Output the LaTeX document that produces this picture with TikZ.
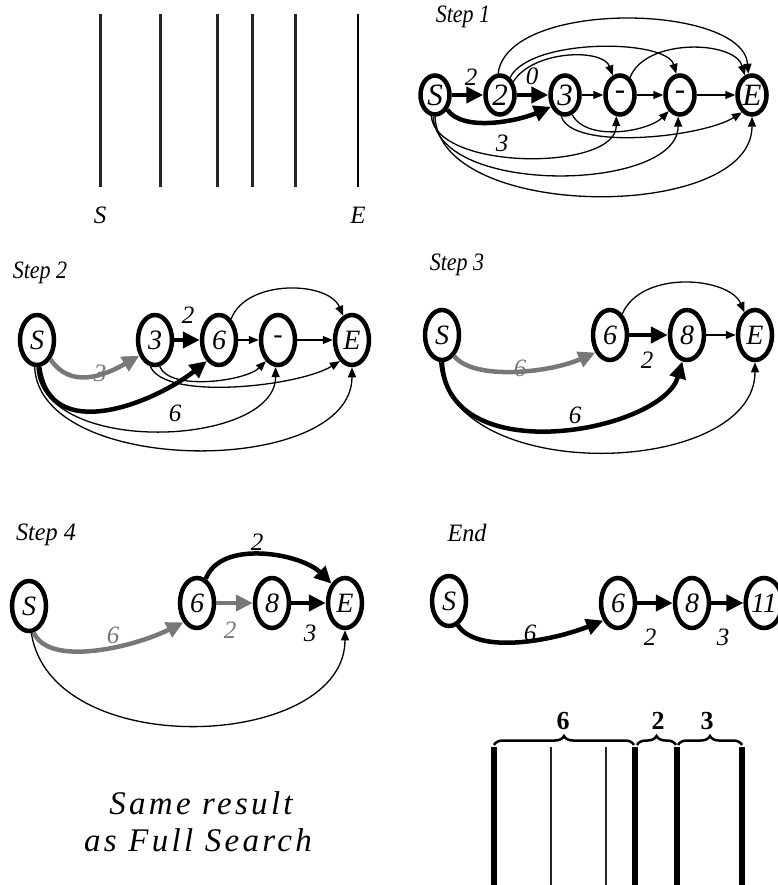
\documentclass[tikz,border=0pt]{standalone}
\usepackage{fontspec}
\setmainfont{Liberation Serif}
\usetikzlibrary{shapes.geometric,arrows.meta,decorations.pathreplacing}
\definecolor{gry}{RGB}{120,120,120}
\tikzset{
  el/.style={ellipse, draw, line width=4.5pt, inner sep=0pt, minimum width=34pt, minimum height=50pt, font=\itshape\fontsize{28}{28}\selectfont},
  elone/.style={el, line width=4.5pt, minimum width=29pt, minimum height=39pt, font=\itshape\fontsize{31}{31}\selectfont},
  thk/.style={line width=4.5pt, -{Triangle[length=17pt,width=16pt]}},
  thn/.style={line width=1.3pt, -{Triangle[length=10pt,width=8pt]}},
  grythk/.style={thk, draw=gry},
  lab/.style={font=\itshape\fontsize{25}{25}\selectfont, inner sep=0pt},
  grylab/.style={lab, text=gry},
  steplab/.style={font=\itshape\fontsize{25}{25}\selectfont, inner sep=0pt, xscale=0.88},
  bar/.style={line width=3pt, draw=black!85},
  bigbar/.style={line width=6.5pt},
  thinbar/.style={line width=2.2pt, draw=black!85},
  brc/.style={line width=2.5pt, decorate, decoration={brace, amplitude=9pt}},
  brclab/.style={font=\bfseries\fontsize{26}{26}\selectfont, inner sep=0pt},
  bigtxt/.style={inner sep=0pt, anchor=base, font=\itshape\fontsize{33}{33}\selectfont\addfontfeatures{LetterSpace=10}}
}
\begin{document}
\begin{tikzpicture}[x=1pt,y=-1pt]
\useasboundingbox (0,0) rectangle (778,885);

% ---- top left: lines
\foreach \xx in {100,160,217,252,295} {\draw[bar] (\xx,14) -- (\xx,187);}
\draw[line width=2.6pt] (358,14) -- (358,187);
\node[lab, font=\itshape\fontsize{25}{25}\selectfont] (tS) at (100,215) {S};
\node[lab, font=\itshape\fontsize{25}{25}\selectfont] (tE) at (358,215) {E};

% ---- Step 1
\node[steplab] (st1) at (463,17) {Step 1};
\node[elone] (s1) at (435,95) {S};
\node[elone] (a1) at (500,95) {2};
\node[elone] (b1) at (565,95) {3};
\node[elone] (c1) at (620,95) {-};
\node[elone] (d1) at (680,95) {-};
\node[elone] (e1) at (752,95) {E};
\draw[thk] (s1) -- (a1);
\draw[thk] (a1) -- (b1);
\draw[thn] (b1) -- (c1);
\draw[thn] (c1) -- (d1);
\draw[thn] (d1) -- (e1);
\draw[thk] (s1.-50) .. controls +(15,22) and +(-35,15) .. (b1.-140);
\draw[thn] (s1.-100) .. controls +(5,55) and +(0,55) .. (c1.-100);
\draw[thn] (s1.-95) .. controls +(5,80) and +(0,75) .. (d1.-95);
\draw[thn] (s1.-90) .. controls +(5,105) and +(0,105) .. (e1.-90);
\draw[thn] (b1.-70) .. controls +(15,28) and +(-20,20) .. (d1.-125);
\draw[thn] (b1.-100) .. controls +(10,35) and +(-40,25) .. (e1.-120);
\draw[thn] (a1.95) .. controls +(10,-75) and +(-5,-70) .. (e1.100);
\draw[thn] (a1.60) .. controls +(20,-40) and +(-10,-35) .. (d1.100);
\draw[thn] (a1.45) .. controls +(20,-32) and +(-10,-27) .. (c1.110);
\draw[thn] (c1.60) .. controls +(15,-40) and +(-10,-35) .. (e1.110);
\node[lab] (l1a) at (471,77) {2};
\node[lab] (l1b) at (532,76) {0};
\node[lab] (l1c) at (502,143) {3};

% ---- Step 2
\node[steplab] (st2) at (40,273) {Step 2};
\node[el] (s2) at (37,340) {S};
\node[el] (a2) at (155,340) {3};
\node[el] (b2) at (219,340) {6};
\node[el] (c2) at (278,340) {-};
\node[el] (e2) at (352,340) {E};
\draw[grythk] (s2.-55) .. controls +(20,30) and +(-35,20) .. (a2.-135);
\draw[thk] (s2.-85) .. controls +(10,80) and +(-50,40) .. (b2.-120);
\draw[thn] (s2.-90) .. controls +(5,90) and +(0,80) .. (c2.-95);
\draw[thn] (s2.-95) .. controls +(5,110) and +(0,110) .. (e2.-90);
\draw[thk] (a2) -- (b2);
\draw[thn] (b2) -- (c2);
\draw[thn] (c2) -- (e2);
\draw[thn] (b2.60) .. controls +(15,-40) and +(-15,-35) .. (e2.110);
\draw[thn] (a2.-80) .. controls +(10,25) and +(-20,20) .. (c2.-120);
\draw[thn] (a2.-100) .. controls +(15,35) and +(-40,25) .. (e2.-120);
\node[grylab] (l2a) at (100,373) {3};
\node[lab] (l2b) at (188,315) {2};
\node[lab] (l2c) at (175,413) {6};

% ---- Step 3
\node[steplab] (st3) at (457,265) {Step 3};
\node[el] (s3) at (442,335) {S};
\node[el] (a3) at (610,335) {6};
\node[el] (b3) at (687,335) {8};
\node[el] (e3) at (755,335) {E};
\draw[grythk] (s3.-60) .. controls +(20,25) and +(-45,20) .. (a3.-130);
\draw[thk] (s3.-90) .. controls +(5,110) and +(-20,70) .. (b3.-100);
\draw[thn] (s3.-95) .. controls +(10,125) and +(0,115) .. (e3.-90);
\draw[thk] (a3) -- (b3);
\draw[thn] (b3) -- (e3);
\draw[thn] (a3.60) .. controls +(20,-45) and +(-15,-35) .. (e3.115);
\node[grylab] (l3a) at (520,368) {6};
\node[lab] (l3b) at (647,360) {2};
\node[lab] (l3c) at (575,415) {6};

% ---- Step 4
\node[steplab, xscale=1.1] (st4) at (46,535) {Step 4};
\node[el] (s4) at (29,606) {S};
\node[el] (a4) at (197,603) {6};
\node[el] (b4) at (272,603) {8};
\node[el] (e4) at (345,603) {E};
\draw[grythk] (s4.-80) .. controls +(15,35) and +(-50,25) .. (a4.-125);
\draw[grythk] (a4) -- (b4);
\draw[thk] (b4) -- (e4);
\draw[thk] (a4.70) .. controls +(15,-40) and +(-30,-30) .. (e4.125);
\draw[thn] (s4.-85) .. controls +(20,130) and +(0,120) .. (e4.-90);
\node[grylab] (l4a) at (113,635) {6};
\node[grylab] (l4b) at (230,630) {2};
\node[lab] (l4c) at (310,633) {3};
\node[lab] (l4d) at (257,542) {2};

% ---- End
\node[steplab, xscale=1.1] (st5) at (467,533) {End};
\node[el] (s5) at (449,601) {S};
\node[el] (a5) at (618,603) {6};
\node[el] (b5) at (692,603) {8};
\node[el, minimum width=36pt] (e5) at (764,603) {11};
\draw[thk] (s5.-70) .. controls +(20,30) and +(-50,20) .. (a5.-130);
\draw[thk] (a5) -- (b5);
\draw[thk] (b5) -- (e5);
\node[lab] (l5a) at (530,633) {6};
\node[lab] (l5b) at (650,637) {2};
\node[lab] (l5c) at (723,637) {3};

% ---- bottom right bars and braces
\foreach \xx in {494,635,677,742} {\draw[bigbar] (\xx,747) -- (\xx,885);}
\foreach \xx in {551,606} {\draw[thinbar] (\xx,747) -- (\xx,885);}
\draw[brc] (494,745) -- (634,745);
\draw[brc] (637,745) -- (676,745);
\draw[brc] (678,745) -- (742,745);
\node[brclab] (b6) at (563,721) {6};
\node[brclab] (b2l) at (658,721) {2};
\node[brclab] (b3l) at (707,721) {3};

% ---- text
\node[bigtxt] (txt1) at (201,814) {Same result};
\node[bigtxt] (txt2) at (198,851) {as Full Search};
\end{tikzpicture}
\end{document}
